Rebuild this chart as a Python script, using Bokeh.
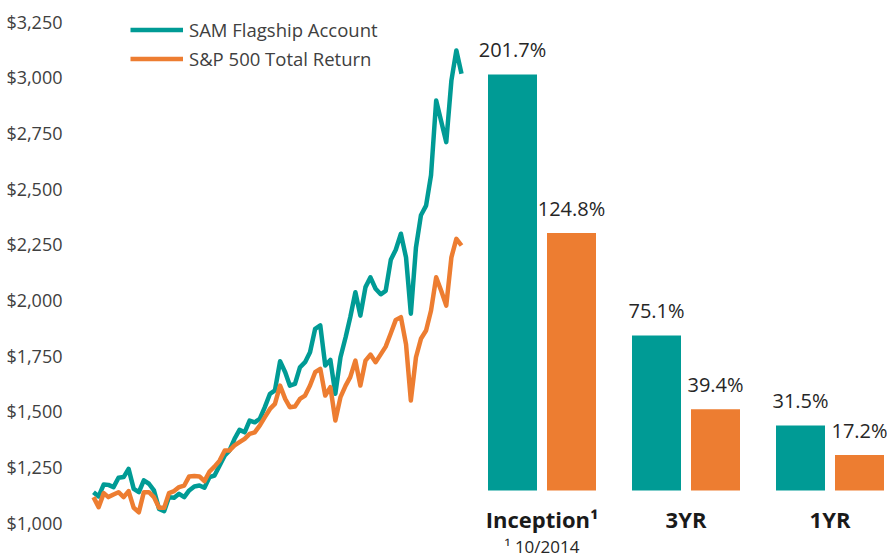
import numpy as np
import pandas as pd
from bokeh.plotting import figure
from bokeh.models import Range1d, FixedTicker, NumeralTickFormatter, Legend, LegendItem, ColumnDataSource
from bokeh.core.properties import value
from bokeh.embed import file_html
from bokeh.resources import INLINE

# ---------------- data ----------------
months = pd.date_range("2014-12-01", periods=74, freq="MS")
sam_values = [1136, 1117, 1171, 1169, 1159, 1201, 1204, 1241, 1151, 1136,
              1189, 1174, 1144, 1061, 1051, 1114, 1111, 1129, 1114, 1144,
              1162, 1166, 1156, 1204, 1211, 1256, 1301, 1323, 1376, 1416,
              1405, 1458, 1450, 1466, 1518, 1578, 1593, 1724, 1675, 1615,
              1623, 1697, 1720, 1765, 1870, 1885, 1705, 1730, 1578, 1742,
              1832, 1922, 2034, 1929, 2057, 2101, 2050, 2025, 2040, 2180,
              2225, 2297, 2190, 1938, 2236, 2380, 2423, 2560, 2895, 2800,
              2708, 2985, 3120, 3015]
sp_values = [1114, 1069, 1132, 1114, 1126, 1136, 1114, 1141, 1066, 1046,
             1136, 1136, 1114, 1066, 1066, 1132, 1141, 1159, 1166, 1207,
             1209, 1207, 1186, 1229, 1251, 1278, 1323, 1323, 1346, 1361,
             1376, 1398, 1405, 1436, 1473, 1510, 1533, 1615, 1555, 1518,
             1521, 1555, 1570, 1615, 1675, 1690, 1570, 1608, 1458, 1563,
             1615, 1653, 1727, 1615, 1727, 1754, 1720, 1755, 1790, 1850,
             1910, 1922, 1800, 1548, 1742, 1825, 1862, 1952, 2101, 2040,
             1974, 2191, 2274, 2244]
y_ticks = [1000, 1250, 1500, 1750, 2000, 2250, 2500, 2750, 3000, 3250]

periods = ["Inception\u00b9", "3YR", "1YR"]
sam_returns = [201.7, 75.1, 31.5]
sp_returns = [124.8, 39.4, 17.2]
footnote = "\u00b9 10/2014"

series_names = ["SAM Flagship Account", "S&P 500 Total Return"]

# ---------------- style / layout ----------------
TEAL = "#009B95"
ORANGE = "#ED7D31"
AXIS_TXT = "#404040"
LBL_TXT = "#262626"
FONT = "Open Sans"

W, H = 887, 560
FL, FR, FT, FB = 80, 887, 0, 560           # frame edges (figure px)
LINE_X0, LINE_X1 = 93, 461                 # pixel x of first / last month
Y_LO_PX, Y_HI_PX = 522, 21                 # pixel y of $1,000 and $3,250
BASE_PX = 490                              # bar baseline pixel y
PX_PER_PCT = 2.0625
G0_PX, G_SPACING = 541.5, 144              # first group centre, group spacing (px)
BAR_W_PX, BAR_GAP_PX = 49, 10

# line x range
t0, t1 = months[0], months[-1]
span_ms = (t1 - t0).total_seconds() * 1000
pxpm = (LINE_X1 - LINE_X0) / span_ms
x_start = t0 - pd.Timedelta(milliseconds=(LINE_X0 - FL) / pxpm)
x_end = t1 + pd.Timedelta(milliseconds=(FR - LINE_X1) / pxpm)

# dollar y range
pp = (Y_LO_PX - Y_HI_PX) / (y_ticks[-1] - y_ticks[0])
y_start = y_ticks[0] - (FB - Y_LO_PX) / pp
y_end = y_ticks[-1] + (Y_HI_PX - FT) / pp

# bar ranges
pct_start = -(FB - BASE_PX) / PX_PER_PCT
pct_end = (BASE_PX - FT) / PX_PER_PCT
bx_start = -(G0_PX - FL) / G_SPACING
bx_end = (len(periods) - 1) + (FR - (G0_PX + G_SPACING * (len(periods) - 1))) / G_SPACING

p = figure(width=W, height=H, x_axis_type="datetime", x_axis_location=None,
           x_range=Range1d(x_start, x_end), y_range=Range1d(y_start, y_end),
           output_backend="svg", toolbar_location=None,
           min_border_left=FL, min_border_right=0, min_border_top=0, min_border_bottom=0)
p.extra_x_ranges = {"bars": Range1d(bx_start, bx_end)}
p.extra_y_ranges = {"pct": Range1d(pct_start, pct_end)}

p.grid.visible = False
p.outline_line_color = None
p.background_fill_color = "white"
p.border_fill_color = "white"

ax = p.yaxis[0]
ax.ticker = FixedTicker(ticks=y_ticks)
ax.formatter = NumeralTickFormatter(format="$0,0")
ax.axis_line_color = None
ax.major_tick_line_color = None
ax.minor_tick_line_color = None
ax.major_label_standoff = 12
ax.major_label_text_font = FONT
ax.major_label_text_font_size = "18px"
ax.major_label_text_color = AXIS_TXT

# lines
r_sam = p.line(months, sam_values, line_color=TEAL, line_width=4.5, line_join="round")
r_sp = p.line(months, sp_values, line_color=ORANGE, line_width=4.5, line_join="round")

legend = Legend(items=[LegendItem(label=series_names[0], renderers=[r_sam]),
                       LegendItem(label=series_names[1], renderers=[r_sp])],
                location=(50, 489), glyph_width=53, glyph_height=25, label_height=25,
                label_standoff=6, spacing=4, padding=0, margin=0,
                border_line_color=None, background_fill_alpha=0,
                label_text_font=FONT, label_text_font_size="18.5px",
                label_text_color=AXIS_TXT)
p.add_layout(legend)

# bars
gpos = np.arange(len(periods))
bw = BAR_W_PX / G_SPACING
off = (BAR_W_PX + BAR_GAP_PX) / 2 / G_SPACING
src = ColumnDataSource(dict(
    x_sam=gpos - off, x_sp=gpos + off, g=gpos,
    sam=sam_returns, sp=sp_returns,
    sam_lbl=[f"{v:.1f}%" for v in sam_returns],
    sp_lbl=[f"{v:.1f}%" for v in sp_returns],
    sam_ly=[v + 25 / PX_PER_PCT for v in sam_returns],
    sp_ly=[v + 25 / PX_PER_PCT for v in sp_returns],
    cat=periods,
    cat_y=[-28 / PX_PER_PCT] * len(periods),
))
p.vbar(x="x_sam", top="sam", bottom=0, width=bw, source=src, fill_color=TEAL,
       line_color=None, x_range_name="bars", y_range_name="pct")
p.vbar(x="x_sp", top="sp", bottom=0, width=bw, source=src, fill_color=ORANGE,
       line_color=None, x_range_name="bars", y_range_name="pct")

p.text(x="x_sam", y="sam_ly", text="sam_lbl", source=src, text_align="center",
       text_baseline="middle", text_font=value(FONT), text_font_size=value("20px"),
       text_color=LBL_TXT, x_range_name="bars", y_range_name="pct")
p.text(x="x_sp", y="sp_ly", text="sp_lbl", source=src, text_align="center",
       text_baseline="middle", text_font=value(FONT), text_font_size=value("20px"),
       text_color=LBL_TXT, x_range_name="bars", y_range_name="pct")

p.text(x="g", y="cat_y", text="cat", source=src, text_align="center",
       text_baseline="middle", text_font=value(FONT), text_font_size=value("22px"),
       text_font_style="bold", text_color="#1a1a1a", x_range_name="bars", y_range_name="pct")

p.text(x=[gpos[0]], y=[-56 / PX_PER_PCT], text=[footnote], text_align="center",
       text_baseline="middle", text_font=value(FONT), text_font_size=value("17px"),
       text_color=LBL_TXT, x_range_name="bars", y_range_name="pct")

open("out.html", "w").write(file_html(p, INLINE))
